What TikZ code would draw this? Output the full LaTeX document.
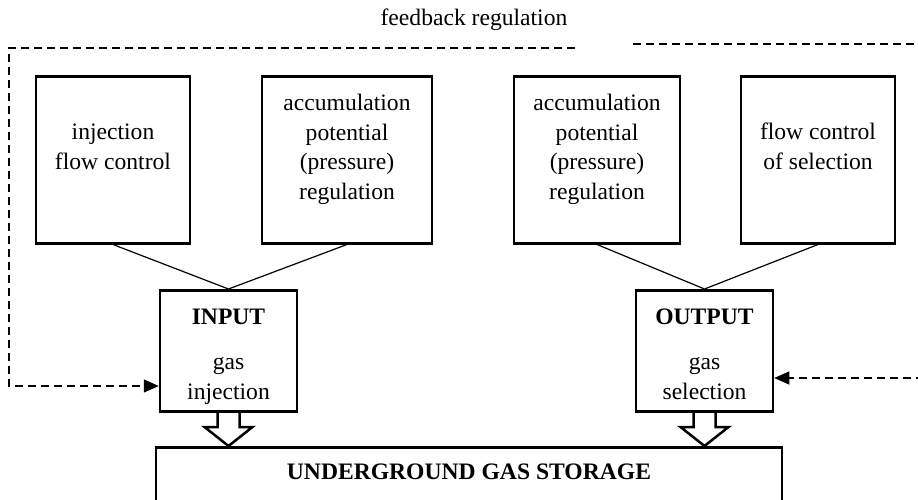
\documentclass[tikz,border=0pt]{standalone}
\usepackage{fontspec}
\setmainfont{Liberation Serif}
\usetikzlibrary{arrows.meta,calc}
\tikzset{
  box/.style={draw, line width=2.5pt, inner sep=0pt, anchor=north, align=center},
  fb/.style={line width=1.2pt, dash pattern=on 8pt off 5pt},
  fat/.style={line width=2.5pt, line join=miter},
}
\begin{document}
\begin{tikzpicture}[x=1pt, y=-1pt, font=\fontsize{23.6}{29.5}\selectfont]
      \useasboundingbox (0,0) rectangle (918,499);
      \clip (0,0) rectangle (918,499);
      \draw
        (113,75) node[box, minimum width=154, text height=93, text depth=74] (injflow){injection\\flow control}
        (347,75) node[box, minimum width=170, text height=123, text depth=44] (accin){accumulation\\potential\\(pressure)\\regulation}
        (597,75) node[box, minimum width=166, text height=123, text depth=44] (accout){accumulation\\potential\\(pressure)\\regulation}
        (818,75) node[box, minimum width=154, text height=93, text depth=74] (selflow){flow control\\of selection}
        (228.5,289) node[box, minimum width=137, text height=109, text depth=12] (in){\textbf{INPUT}\\[16pt]gas\\injection}
        (704.5,289) node[box, minimum width=137, text height=109, text depth=12] (out){\textbf{OUTPUT}\\[16pt]gas\\selection}
        (469,446) node[box, minimum width=626, text height=32, text depth=90] (store){\textbf{UNDERGROUND GAS STORAGE}}
        (474,20) node (fbtext){feedback regulation};
      \begin{scope}[line width=1.2pt]
        \draw (injflow.south) to (in.north);
        \draw (accin.south) to (in.north);
        \draw (accout.south) to (out.north);
        \draw (selflow.south) to (out.north);
      \end{scope}
      \coordinate (intip) at (in.south |- store.north);
      \coordinate (outtip) at (out.south |- store.north);
      \draw[fat] ($(in.south)+(-11,0)$) -- ($(intip)+(-11,-19)$) -- ($(intip)+(-24,-19)$) -- (intip)
        -- ($(intip)+(24,-19)$) -- ($(intip)+(11,-19)$) -- ($(in.south)+(11,0)$);
      \draw[fat] ($(out.south)+(-11,0)$) -- ($(outtip)+(-11,-19)$) -- ($(outtip)+(-24,-19)$) -- (outtip)
        -- ($(outtip)+(24,-19)$) -- ($(outtip)+(11,-19)$) -- ($(out.south)+(11,0)$);
      \coordinate (fbl) at (575,48);
      \coordinate (fbr) at (633,44);
      \draw[fb, -{Triangle[length=15pt,width=13pt]}] (fbl) -| (9,386) -- (in.west |- 0,386);
      \draw[fb, -{Triangle[length=15pt,width=13pt]}] (fbr) -| (930,378) -- (out.east |- 0,378);
    \end{tikzpicture}
\end{document}
